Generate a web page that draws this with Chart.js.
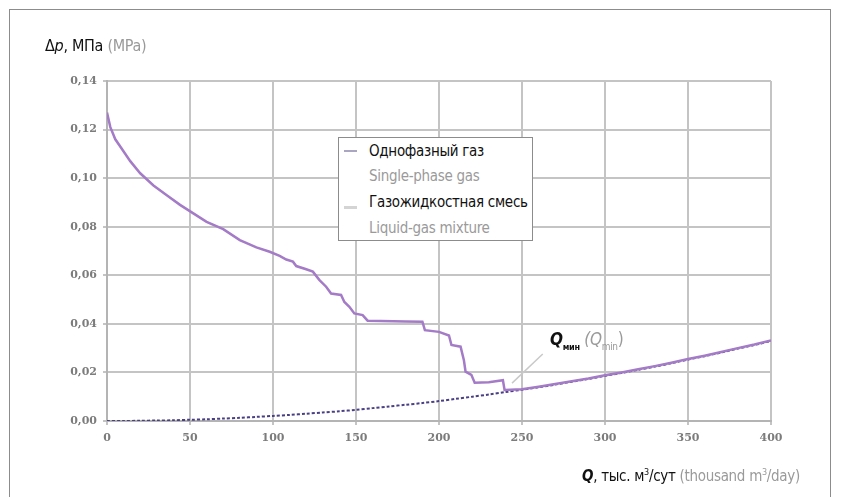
<!DOCTYPE html>
<html>
<head>
<meta charset="utf-8">
<script src="https://cdn.jsdelivr.net/npm/chart.js@4.4.1/dist/chart.umd.min.js"></script>
<style>
  html, body { margin: 0; padding: 0; background: #fff; }
  #wrap { position: relative; width: 845px; height: 497px; overflow: hidden; }
  #frame { position: absolute; left: 9px; top: 9px; width: 822px; height: 520px; border: 1px solid #8c8c8c; box-sizing: border-box; }
  canvas { position: absolute; left: 0; top: 0; }
  .txt { position: absolute; font-family: "DejaVu Sans Condensed", "Liberation Sans Narrow", "Roboto", sans-serif; font-stretch: condensed; white-space: nowrap; color: #111; letter-spacing: -0.3px; }
  .grey { color: #9a9a9a; }
  #legend { position: absolute; left: 338px; top: 137px; width: 195px; height: 104px; border: 1px solid #8c8c8c; background: #fff; box-sizing: border-box; }
  #legend .row { left: 30px; font-size: 15px; line-height: 18px; }
  #legend .mark { position: absolute; left: 5px; width: 13px; height: 2px; }
</style>
</head>
<body>
<div id="wrap">
  <div id="frame"></div>
  <canvas id="chart" width="845" height="497"></canvas>
  <div class="txt" style="left:45px; top:36px; font-size:16px;">&Delta;<i>p</i>, МПа <span class="grey">(MPa)</span></div>
  <div id="legend">
    <div class="mark" style="top:12px; background:#aaa6c2;"></div>
    <div class="txt row" style="top:4px;">Однофазный газ</div>
    <div class="txt row grey" style="top:29px;">Single-phase gas</div>
    <div class="mark" style="top:68px; background:#d4d4d4; height:3px;"></div>
    <div class="txt row" style="top:55px;">Газожидкостная смесь</div>
    <div class="txt row grey" style="top:81px;">Liquid-gas mixture</div>
  </div>
  <div class="txt" style="left:550px; top:329px; font-size:17px;"><b><i>Q</i></b><span style="font-size:9px; font-weight:bold; position:relative; top:5px;">мин</span> <span class="grey"><i>(Q</i><span style="font-size:10px; position:relative; top:5px;">min</span>)</span></div>
  <div class="txt" style="left:582px; top:467px; font-size:15px;"><b><i>Q</i></b>, тыс. м<sup style="font-size:9px;">3</sup>/сут <span class="grey">(thousand m<sup style="font-size:9px;">3</sup>/day)</span></div>
</div>
<script>
// flow rate, thousand m3/day
const qSingle = [0, 10, 20, 30, 40, 50, 60, 70, 80, 90, 100, 110, 120, 130, 140, 150, 160, 170, 180, 190, 200,
  210, 220, 230, 240, 250, 260, 270, 280, 290, 300, 310, 320, 330, 340, 350, 360, 370, 380, 390, 400];
// pressure drop, MPa - single-phase gas
const dpSingle = [0.0000, 0.0000, 0.0001, 0.0002, 0.0003, 0.0005, 0.0007, 0.0010, 0.0013, 0.0017, 0.0021,
  0.0025, 0.0030, 0.0035, 0.0040, 0.0046, 0.0053, 0.0060, 0.0067, 0.0074, 0.0082,
  0.0091, 0.0100, 0.0109, 0.0119, 0.0129, 0.0139, 0.0150, 0.0162, 0.0173, 0.0186,
  0.0198, 0.0211, 0.0224, 0.0238, 0.0253, 0.0267, 0.0282, 0.0298, 0.0313, 0.0330];

// liquid-gas mixture
const qMix = [0, 2, 5, 9, 14, 20, 28, 36, 44, 52, 60, 70, 80, 90, 98, 104, 108, 112, 114, 120, 124, 128,
  132, 135, 141, 143, 146, 149, 154, 157, 165, 180, 190, 191.5, 200, 206, 207.5, 213, 215, 216, 219.5,
  221.5, 230, 238.5, 239.5, 250, 260, 270, 280, 290, 300, 310, 320, 330, 340, 350, 360, 370, 380, 390, 400];
const dpMix = [0.127, 0.121, 0.116, 0.112, 0.107, 0.102, 0.097, 0.093, 0.089, 0.0855, 0.082, 0.079, 0.0745,
  0.0715, 0.0697, 0.068, 0.0665, 0.0656, 0.0638, 0.0625, 0.0615, 0.058, 0.0553, 0.0525, 0.0519, 0.049,
  0.047, 0.0443, 0.0436, 0.0413, 0.0412, 0.041, 0.0409, 0.0374, 0.0367, 0.0352, 0.0313, 0.0306, 0.025,
  0.0203, 0.019, 0.0158, 0.016, 0.0168, 0.0128, 0.0131, 0.0141, 0.0152, 0.0164, 0.0175, 0.0188, 0.0200,
  0.0213, 0.0226, 0.0240, 0.0255, 0.0269, 0.0284, 0.0300, 0.0315, 0.0332];

const yTickLabels = ['0,00', '0,02', '0,04', '0,06', '0,08', '0,10', '0,12', '0,14'];

// leader line for the Q_min label (data units)
const qminLeader = [[244, 0.0156], [262.5, 0.0276]];

const leaderPlugin = {
  id: 'leader',
  afterDatasetsDraw(chart) {
    const x = chart.scales.x, y = chart.scales.y, ctx = chart.ctx;
    ctx.save();
    ctx.strokeStyle = '#c9c9c9';
    ctx.lineWidth = 1.5;
    ctx.beginPath();
    ctx.moveTo(x.getPixelForValue(qminLeader[0][0]), y.getPixelForValue(qminLeader[0][1]));
    ctx.lineTo(x.getPixelForValue(qminLeader[1][0]), y.getPixelForValue(qminLeader[1][1]));
    ctx.stroke();
    ctx.restore();
  }
};

const tickFont = { family: 'DejaVu Serif', size: 11, weight: 'bold' };

new Chart(document.getElementById('chart').getContext('2d'), {
  type: 'line',
  data: {
    datasets: [{
      label: 'Газожидкостная смесь',
      data: qMix.map((q, i) => ({ x: q, y: dpMix[i] })),
      borderColor: '#a47bc6',
      borderWidth: 2.5,
      pointRadius: 0,
      tension: 0
    }, {
      label: 'Однофазный газ',
      data: qSingle.map((q, i) => ({ x: q, y: dpSingle[i] })),
      borderColor: '#4a3f84',
      borderWidth: 2,
      borderDash: [3, 2],
      pointRadius: 0,
      tension: 0.3
    }]
  },
  options: {
    responsive: false,
    animation: false,
    layout: { padding: { top: 81, right: 74, left: 0, bottom: 0 } },
    plugins: {
      legend: { display: false },
      tooltip: { enabled: false }
    },
    scales: {
      x: {
        type: 'linear',
        min: 0,
        max: 400,
        ticks: { stepSize: 50, padding: 7, color: '#7c7c7c', font: tickFont },
        grid: { color: '#c4c4c4', lineWidth: 2, tickLength: 4 },
        border: { color: '#b4b4b4', width: 2 },
        afterFit: s => { s.height = 76; }
      },
      y: {
        min: 0,
        max: 0.14,
        ticks: {
          stepSize: 0.02,
          padding: 6,
          color: '#7c7c7c',
          font: tickFont,
          callback: (v, i) => yTickLabels[i]
        },
        grid: { color: '#c4c4c4', lineWidth: 2, tickLength: 4 },
        border: { color: '#b4b4b4', width: 2 },
        afterFit: s => { s.width = 107; }
      }
    }
  },
  plugins: [leaderPlugin]
});
</script>
</body>
</html>
